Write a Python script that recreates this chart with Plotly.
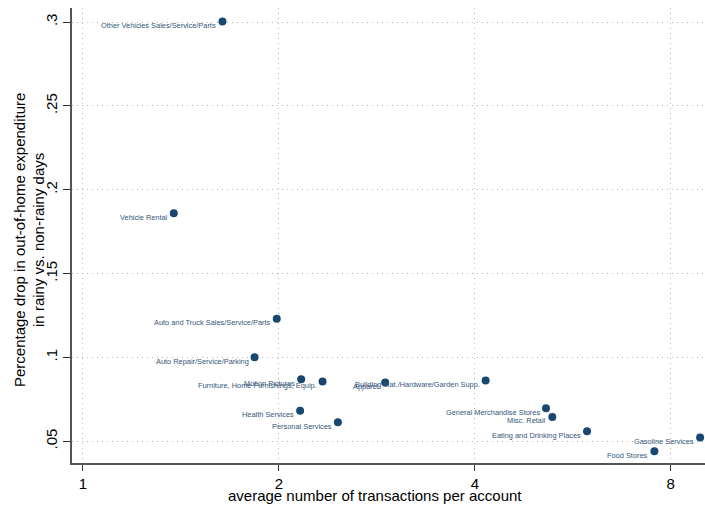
import math
import plotly.graph_objects as go

categories = [
    "Other Vehicles Sales/Service/Parts",
    "Vehicle Rental",
    "Auto and Truck Sales/Service/Parts",
    "Auto Repair/Service/Parking",
    "Motion Pictures",
    "Furniture, Home Furnishings, Equip.",
    "Apparel",
    "Building Mat./Hardware/Garden Supp.",
    "Health Services",
    "Personal Services",
    "General Merchandise Stores",
    "Misc. Retail",
    "Eating and Drinking Places",
    "Gasoline Services",
    "Food Stores",
]
avg_transactions = [1.638, 1.379, 1.985, 1.835, 2.164, 2.334, 2.913, 4.156,
                    2.156, 2.464, 5.145, 5.261, 5.949, 8.875, 7.55]
pct_drop = [0.3004, 0.1859, 0.1230, 0.1001, 0.0870, 0.0856, 0.0850, 0.0862,
            0.0681, 0.0613, 0.0697, 0.0645, 0.0560, 0.0522, 0.0440]

x_ticks = [1, 2, 4, 8]
x_ticklabels = ["1", "2", "4", "8"]
y_ticks = [0.05, 0.1, 0.15, 0.2, 0.25, 0.3]
y_ticklabels = [".05", ".1", ".15", ".2", ".25", ".3"]

x_title = "average number of transactions per account"
y_title = "Percentage drop in out-of-home expenditure<br>in rainy vs. non-rainy days"

navy = "#1a476f"
font_family = "Liberation Sans, Arial, sans-serif"

fig = go.Figure()
fig.add_trace(go.Scatter(
    x=avg_transactions, y=pct_drop, mode="markers",
    marker=dict(color=navy, size=8, line=dict(width=0)),
    hoverinfo="skip", showlegend=False, cliponaxis=False,
))

annotations = []
for name, xv, yv in zip(categories, avg_transactions, pct_drop):
    annotations.append(dict(
        x=math.log10(xv), y=yv, xref="x", yref="y", text=name,
        showarrow=False, xanchor="right", yanchor="middle",
        xshift=-4, yshift=-4,
        font=dict(family=font_family, size=7.4, color="#34557a"),
    ))

# axis titles as paper annotations
annotations.append(dict(
    x=0.478, y=-0.071, xref="paper", yref="paper", text=x_title,
    showarrow=False, xanchor="center", yanchor="middle",
    font=dict(family=font_family, size=15, color="black"),
))
annotations.append(dict(
    x=-0.068, y=0.49, xref="paper", yref="paper", text=y_title,
    showarrow=False, xanchor="center", yanchor="middle", textangle=-90,
    font=dict(family=font_family, size=15, color="black"),
))

fig.update_layout(
    width=705, height=510,
    margin=dict(l=72, r=0, t=8, b=47, pad=0),
    paper_bgcolor="white", plot_bgcolor="white",
    font=dict(family=font_family, color="black", size=14),
    annotations=annotations,
    xaxis=dict(
        type="log",
        range=[math.log10(0.962), math.log10(9.03)],
        tickvals=x_ticks, ticktext=x_ticklabels,
        ticks="outside", ticklen=6, tickwidth=1, tickcolor="#333",
        showline=True, linecolor="#555", linewidth=1.5,
        showgrid=True, gridcolor="#b8b8b8", griddash="1px,4px", gridwidth=1,
        zeroline=False, automargin=False,
        tickfont=dict(size=15),
    ),
    yaxis=dict(
        range=[0.037, 0.3084],
        tickvals=y_ticks, ticktext=y_ticklabels,
        tickangle=-90,
        ticks="outside", ticklen=7, tickwidth=1, tickcolor="#333",
        showline=True, linecolor="#555", linewidth=1.5,
        showgrid=True, gridcolor="#b8b8b8", griddash="1px,4px", gridwidth=1,
        zeroline=False, automargin=False,
        tickfont=dict(size=15),
    ),
)

fig.write_html(
    "out.html",
    config={"displayModeBar": False},
    post_script="document.body.style.margin='0';document.body.style.overflow='hidden';",
)
